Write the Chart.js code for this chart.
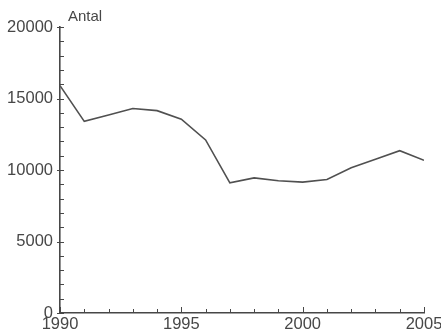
<!DOCTYPE html>
<html>
<head>
<meta charset="utf-8">
<script src="https://cdn.jsdelivr.net/npm/chart.js@4.4.0/dist/chart.umd.min.js"></script>
<style>
  html, body { margin: 0; padding: 0; background: #fff; }
  #wrap { position: relative; width: 441px; height: 335px; }
</style>
</head>
<body>
<div id="wrap"><canvas id="chart"></canvas></div>
<script>
// values
const years = [1990, 1991, 1992, 1993, 1994, 1995, 1996, 1997, 1998, 1999, 2000, 2001, 2002, 2003, 2004, 2005]
const antal = [15900, 13400, 13850, 14300, 14150, 13550, 12100, 9100, 9450, 9250, 9150, 9330, 10150, 10750, 11350, 10680]
const yMajorTicks = [0, 5000, 10000, 15000, 20000]
const xMajorTicks = [1990, 1995, 2000, 2005]
const axisTitle = "Antal"

const ink = "#474747"
const fontFamily = "'Liberation Sans', Arial, sans-serif"

// short inward tick marks + the "Antal" label
const innerTicks = {
    id: "innerTicks",
    afterDraw(chart) {
        const ctx = chart.ctx
        const x = chart.scales.x
        const y = chart.scales.y
        const area = chart.chartArea
        ctx.save()
        ctx.strokeStyle = ink
        ctx.lineWidth = 1
        ctx.beginPath()
        for (let v = 1990; v <= 2005; v++) {
            const px = Math.round(x.getPixelForValue(v)) + 0.5
            const len = xMajorTicks.includes(v) ? 6 : 4
            ctx.moveTo(px, area.bottom)
            ctx.lineTo(px, area.bottom - len)
        }
        for (let v = 0; v <= 20000; v += 1000) {
            const py = Math.round(y.getPixelForValue(v)) + 0.5
            const major = yMajorTicks.includes(v)
            ctx.moveTo(area.left - (major ? 3 : 0), py)
            ctx.lineTo(area.left + 4, py)
        }
        ctx.stroke()
        ctx.fillStyle = ink
        ctx.font = "15px " + fontFamily
        ctx.textBaseline = "alphabetic"
        ctx.fillText(axisTitle, area.left + 8, 21)
        ctx.restore()
    }
}

new Chart(document.getElementById("chart"), {
    type: "line",
    data: {
        labels: years,
        datasets: [{
            data: years.map((yr, i) => ({ x: yr, y: antal[i] })),
            borderColor: "#505050",
            borderWidth: 1.6,
            pointRadius: 0,
            tension: 0,
            fill: false
        }]
    },
    options: {
        responsive: true,
        maintainAspectRatio: false,
        animation: false,
        layout: { padding: { top: 27, right: 17, left: 0, bottom: 0 } },
        plugins: { legend: { display: false }, tooltip: { enabled: false } },
        scales: {
            x: {
                type: "linear",
                min: 1990,
                max: 2005,
                afterBuildTicks: (s) => { s.ticks = xMajorTicks.map(v => ({ value: v })) },
                ticks: {
                    autoSkip: false,
                    maxRotation: 0,
                    padding: 2,
                    color: ink,
                    font: { family: fontFamily, size: 16.5 },
                    callback: (v) => String(v)
                },
                grid: { display: false, drawTicks: false },
                border: { display: true, color: ink, width: 1.6 },
                afterFit: (s) => { s.height = 22; s.paddingLeft = 0; s.paddingRight = 0 }
            },
            y: {
                min: 0,
                max: 20000,
                afterBuildTicks: (s) => { s.ticks = yMajorTicks.map(v => ({ value: v })) },
                ticks: {
                    autoSkip: false,
                    padding: 7,
                    color: ink,
                    font: { family: fontFamily, size: 16.5 },
                    callback: (v) => String(v)
                },
                grid: { display: false, drawTicks: false },
                border: { display: true, color: ink, width: 1.6 },
                afterFit: (s) => { s.width = 60; s.paddingTop = 0; s.paddingBottom = 0 }
            }
        }
    },
    plugins: [innerTicks]
})
</script>
</body>
</html>
